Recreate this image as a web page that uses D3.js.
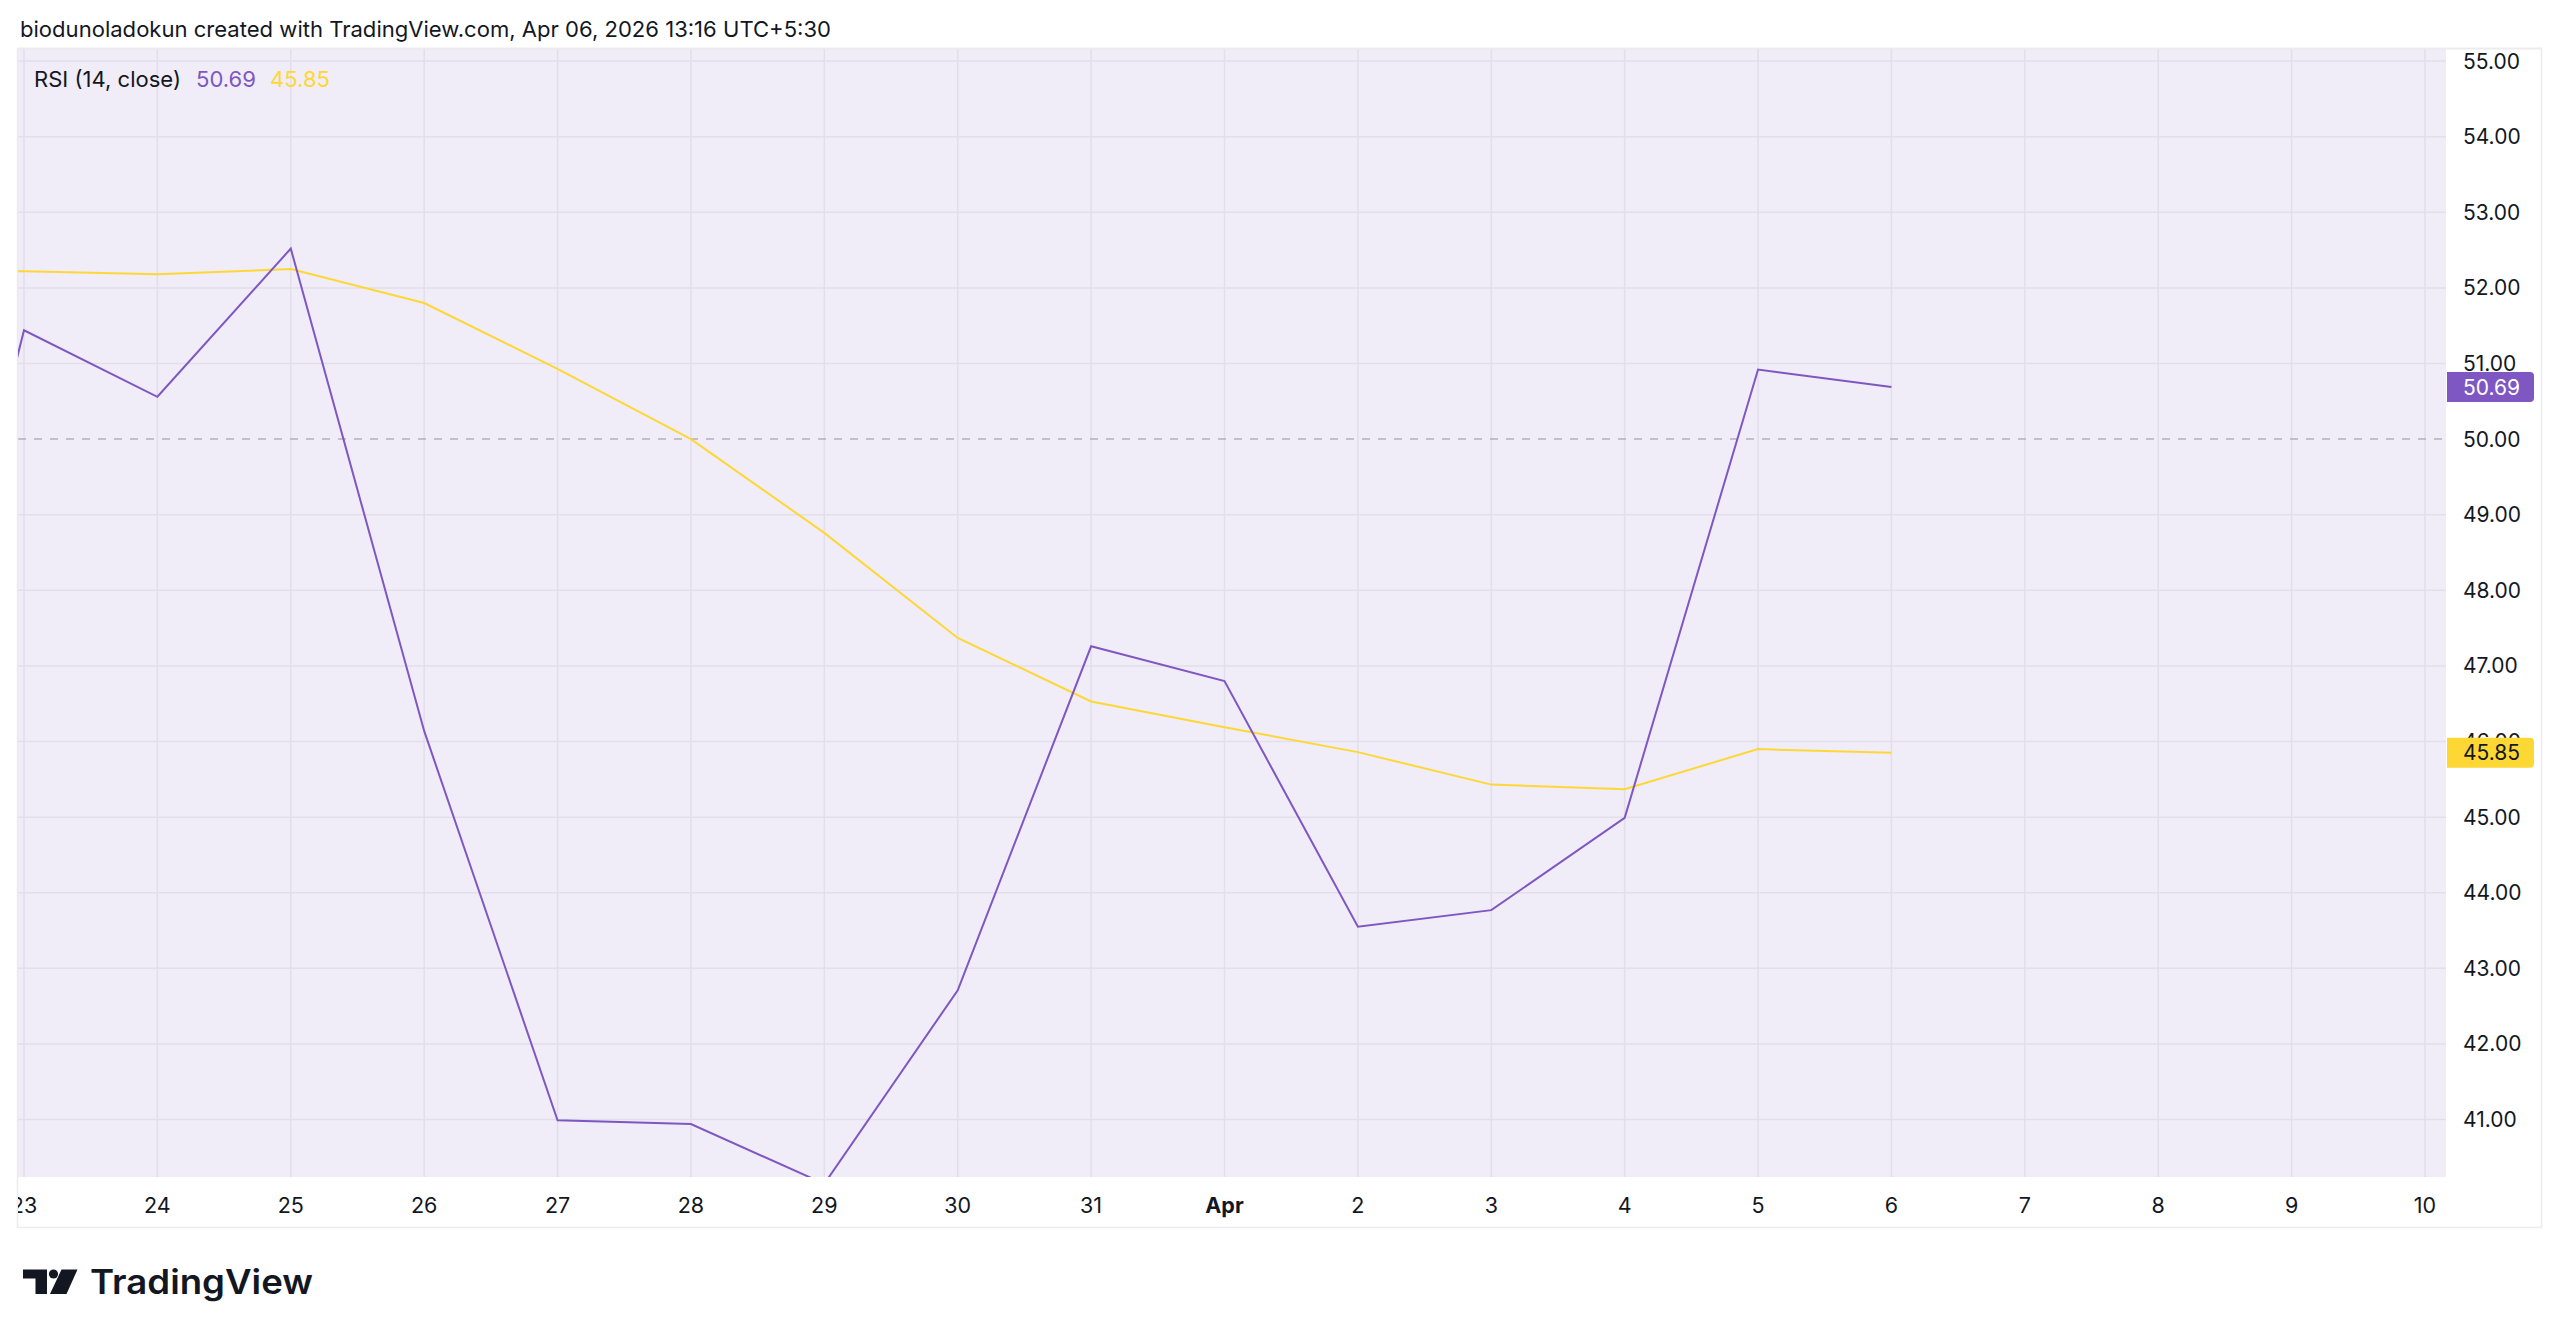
<!DOCTYPE html>
<html>
<head>
<meta charset="utf-8">
<script src="https://cdn.jsdelivr.net/npm/d3@7"></script>
<style>
  body { margin: 0; background: #ffffff; }
  text { font-family: Inter, "Noto Sans", sans-serif; }
</style>
</head>
<body>
<div id="chart"></div>
<script>
const WIDTH = 2560;
const HEIGHT = 1340;

// RSI (14, close) daily values
const dates = ["2026-03-22","2026-03-23","2026-03-24","2026-03-25","2026-03-26","2026-03-27","2026-03-28","2026-03-29",
               "2026-03-30","2026-03-31","2026-04-01","2026-04-02","2026-04-03","2026-04-04","2026-04-05","2026-04-06"];
const rsi = [44.4, 51.44, 50.56, 52.52, 46.14, 40.99, 40.94, 40.15, 42.71, 47.26, 46.80, 43.55, 43.77, 44.99, 50.92, 50.69];
const rsiMa = [52.22, 52.22, 52.18, 52.25, 51.80, 50.93, 50.00, 48.76, 47.37, 46.53, 46.19, 45.86, 45.43, 45.37, 45.90, 45.85];
const yTicks = [41, 42, 43, 44, 45, 46, 47, 48, 49, 50, 51, 52, 53, 54, 55];
const lastRsi = "50.69";
const lastMa = "45.85";

const parse = d3.utcParse("%Y-%m-%d");

const plot = {left: 18, right: 2446, top: 49, bottom: 1177};
const frame = {right: 2542, bottom: 1228};

let svg = d3.select("#chart")
    .append("svg")
    .attr("width", WIDTH)
    .attr("height", HEIGHT);

svg.append("rect").attr("width", WIDTH).attr("height", HEIGHT).attr("fill", "#ffffff");

let x = d3.scaleUtc()
    .domain([parse("2026-03-23"), parse("2026-04-10")])
    .range([24, 2425]);

let y = d3.scaleLinear()
    .domain([40.24, 55.16])
    .range([plot.bottom, plot.top]);

let defs = svg.append("defs");
defs.append("clipPath").attr("id", "plotclip")
    .append("rect")
    .attr("x", plot.left).attr("y", plot.top)
    .attr("width", plot.right - plot.left).attr("height", plot.bottom - plot.top);
defs.append("clipPath").attr("id", "axisclip")
    .append("rect")
    .attr("x", plot.left).attr("y", plot.bottom)
    .attr("width", frame.right - plot.left).attr("height", frame.bottom - plot.bottom);

// title
svg.append("text")
    .attr("x", 20)
    .attr("y", 37)
    .attr("textLength", 811)
    .attr("lengthAdjust", "spacingAndGlyphs")
    .style("font-size", "22px")
    .style("fill", "#131722")
    .text("biodunoladokun created with TradingView.com, Apr 06, 2026 13:16 UTC+5:30");

// band background
svg.append("rect")
    .attr("x", plot.left).attr("y", plot.top)
    .attr("width", plot.right - plot.left).attr("height", plot.bottom - plot.top)
    .attr("fill", "#f0ecf8");

// grid
let days = d3.utcDay.range(parse("2026-03-23"), parse("2026-04-11"));
let grid = svg.append("g").attr("clip-path", "url(#plotclip)");
grid.selectAll(".vgrid")
    .data(days)
    .enter()
    .append("line")
    .attr("x1", d => x(d)).attr("x2", d => x(d))
    .attr("y1", plot.top).attr("y2", plot.bottom)
    .style("stroke", "#e2deea")
    .style("stroke-width", 1.5);
grid.selectAll(".hgrid")
    .data(yTicks.filter(d => d != 50))
    .enter()
    .append("line")
    .attr("x1", plot.left).attr("x2", plot.right)
    .attr("y1", d => y(d)).attr("y2", d => y(d))
    .style("stroke", "#e2deea")
    .style("stroke-width", 1.5);

// middle 50 line
svg.append("line")
    .attr("x1", plot.left).attr("x2", plot.right)
    .attr("y1", y(50)).attr("y2", y(50))
    .style("stroke", "#b3afbb")
    .style("stroke-width", 1.5)
    .style("stroke-dasharray", "8,8");

// frame borders
svg.append("line").attr("x1", plot.left).attr("x2", frame.right)
    .attr("y1", plot.top - 0.5).attr("y2", plot.top - 0.5)
    .style("stroke", "#e6e3ec").style("stroke-width", 1.5);
svg.append("rect")
    .attr("x", plot.left - 0.5).attr("y", plot.top - 0.5)
    .attr("width", frame.right - plot.left).attr("height", frame.bottom - plot.top)
    .attr("fill", "none")
    .style("stroke", "#ebebf0")
    .style("stroke-width", 1.5);

// lines
let series = dates.map((d, i) => ({date: parse(d), rsi: rsi[i], ma: rsiMa[i]}));
let lines = svg.append("g").attr("clip-path", "url(#plotclip)");
lines.append("path")
    .datum(series)
    .attr("d", d3.line().x(d => x(d.date)).y(d => y(d.ma)))
    .style("fill", "none")
    .style("stroke", "#fdd835")
    .style("stroke-width", 2);
lines.append("path")
    .datum(series)
    .attr("d", d3.line().x(d => x(d.date)).y(d => y(d.rsi)))
    .style("fill", "none")
    .style("stroke", "#7e57c2")
    .style("stroke-width", 2);

// x axis labels
svg.append("g").attr("clip-path", "url(#axisclip)")
    .selectAll("text")
    .data(days)
    .enter()
    .append("text")
    .attr("x", d => x(d))
    .attr("y", 1213)
    .attr("text-anchor", "middle")
    .style("font-size", "21.5px")
    .style("font-weight", d => d.getUTCDate() == 1 ? "700" : "400")
    .style("fill", "#131722")
    .text(d => d.getUTCDate() == 1 ? "Apr" : d.getUTCDate());

// y axis labels
svg.append("g")
    .selectAll("text")
    .data(yTicks)
    .enter()
    .append("text")
    .attr("x", 2463)
    .attr("y", d => y(d))
    .attr("dy", "0.36em")
    .style("font-size", "21px")
    .style("fill", "#131722")
    .text(d => d.toFixed(2));

// last value tags
function tag(value, label, bg, fg) {
    let cy = y(+value);
    let x0 = 2447, x1 = 2534, h = 30, r = 4;
    svg.append("path")
        .attr("d", "M" + x0 + "," + (cy - h / 2) + "H" + (x1 - r) + "Q" + x1 + "," + (cy - h / 2) + " " + x1 + "," + (cy - h / 2 + r)
            + "V" + (cy + h / 2 - r) + "Q" + x1 + "," + (cy + h / 2) + " " + (x1 - r) + "," + (cy + h / 2) + "H" + x0 + "Z")
        .attr("fill", bg);
    svg.append("text")
        .attr("x", 2463)
        .attr("y", cy)
        .attr("dy", "0.36em")
        .style("font-size", "21px")
        .style("fill", fg)
        .text(label);
}
tag(lastRsi, lastRsi, "#7e57c2", "#ffffff");
tag(lastMa, lastMa, "#fdd835", "#131722");

// legend
let legend = svg.append("g").style("font-size", "22px");
legend.append("text").attr("x", 34).attr("y", 87)
    .attr("textLength", 147).attr("lengthAdjust", "spacingAndGlyphs")
    .style("fill", "#131722").text("RSI (14, close)");
legend.append("text").attr("x", 196).attr("y", 87)
    .attr("textLength", 60).attr("lengthAdjust", "spacingAndGlyphs")
    .style("fill", "#7e57c2").text(lastRsi);
legend.append("text").attr("x", 270).attr("y", 87)
    .attr("textLength", 60).attr("lengthAdjust", "spacingAndGlyphs")
    .style("fill", "#fdd835").text(lastMa);

// TradingView logo
let logo = svg.append("g").style("fill", "#131722");
logo.append("path").attr("d", "M23,1269.5H47V1294H35.5V1278.5H23Z");
logo.append("circle").attr("cx", 53.5).attr("cy", 1274).attr("r", 4.6);
logo.append("path").attr("d", "M61.5,1269.5H77.5L66.5,1294H50Z");
svg.append("text")
    .attr("x", 90)
    .attr("y", 1294)
    .attr("textLength", 223)
    .attr("lengthAdjust", "spacingAndGlyphs")
    .style("font-size", "34px")
    .style("font-weight", "600")
    .style("fill", "#131722")
    .text("TradingView");
</script>
</body>
</html>
